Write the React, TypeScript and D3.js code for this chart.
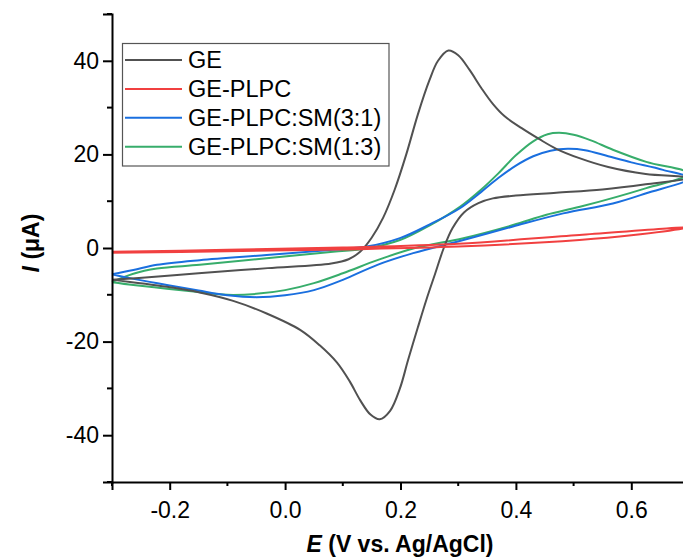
import React, { useEffect, useRef } from "react";
import * as d3 from "d3";

// cyclic voltammograms, each loop: forward scan then reverse scan (E in V, I in µA)
const geE = [-0.3, -0.22, -0.15, -0.03, 0.08, 0.11, 0.13, 0.15, 0.17, 0.19, 0.21, 0.23, 0.25, 0.265, 0.283, 0.3, 0.32, 0.34, 0.36, 0.38, 0.41, 0.44, 0.47, 0.51, 0.56, 0.625, 0.7,
  0.625, 0.55, 0.47, 0.4, 0.36, 0.335, 0.31, 0.29, 0.275, 0.26, 0.245, 0.23, 0.213, 0.199, 0.182, 0.164, 0.148, 0.13, 0.112, 0.09, 0.06, 0.026, -0.032, -0.09, -0.148, -0.205, -0.3];
const geI = [-6.8, -6.1, -5.4, -4.3, -3.3, -2.4, -0.8, 2.2, 6.5, 12.5, 20, 28.5, 35.8, 40, 42.2, 41.2, 38, 34.2, 30.8, 28.2, 25.6, 23.3, 21.2, 19.2, 17.3, 15.8, 15.0,
  13.6, 12.5, 11.8, 11.2, 10.6, 9.6, 7.6, 4.2, 0, -5.5, -11, -17, -24, -30, -34.8, -36.6, -35.6, -32.5, -28.5, -24.5, -20.8, -17.5, -14, -11.3, -9.5, -8.3, -6.8];

const plpcE = [-0.3, -0.1, 0.1, 0.3, 0.51, 0.7, 0.6, 0.51, 0.3, 0.1, -0.1, -0.3];
const plpcI = [-0.8, -0.4, 0.1, 0.9, 2.8, 4.4, 2.7, 1.7, 0.3, -0.3, -0.7, -1.0];

const sm31E = [-0.3, -0.263, -0.222, -0.148, -0.032, 0.083, 0.141, 0.199, 0.25, 0.303, 0.34, 0.37, 0.4, 0.43, 0.46, 0.49, 0.52, 0.56, 0.6, 0.655, 0.7,
  0.626, 0.568, 0.482, 0.395, 0.309, 0.222, 0.16, 0.1, 0.05, 0.0, -0.05, -0.1, -0.15, -0.205, -0.263, -0.3];
const sm31I = [-5.6, -4.7, -3.6, -2.6, -1.5, -0.4, 0.3, 2.1, 5.0, 8.5, 12.0, 15.0, 17.6, 19.6, 20.8, 21.2, 20.9, 19.6, 18.3, 16.7, 14.9,
  11.7, 9.5, 7.4, 4.6, 1.7, -1.1, -3.6, -6.8, -9.0, -10.1, -10.5, -10.1, -9.1, -7.9, -6.6, -5.6];

const sm13E = [-0.3, -0.263, -0.222, -0.148, -0.032, 0.083, 0.141, 0.199, 0.25, 0.303, 0.34, 0.37, 0.4, 0.43, 0.455, 0.475, 0.5, 0.53, 0.568, 0.626, 0.7,
  0.626, 0.511, 0.453, 0.395, 0.309, 0.222, 0.16, 0.1, 0.05, 0.0, -0.05, -0.1, -0.15, -0.205, -0.263, -0.3];
const sm13I = [-7.3, -5.5, -4.4, -3.6, -2.2, -0.8, -0.1, 1.7, 4.8, 8.8, 12.5, 16.0, 19.8, 22.8, 24.3, 24.6, 24.2, 23.0, 21.0, 18.4, 15.9,
  12.8, 8.8, 7.1, 4.9, 2.1, -0.1, -2.6, -5.4, -7.5, -9.0, -9.8, -10.0, -9.4, -8.7, -7.9, -7.3];

const seriesNames = ["GE", "GE-PLPC", "GE-PLPC:SM(3:1)", "GE-PLPC:SM(1:3)"];
const seriesColors = ["#515151", "#F14040", "#1A6FDF", "#37AD6B"];
const xTicks = [-0.2, 0.0, 0.2, 0.4, 0.6];
const yTicks = [-40, -20, 0, 20, 40];

const App = () => {
  const ref = useRef(null);

  useEffect(() => {
    const svg = d3.select(ref.current);
    svg.selectAll("*").remove();

    const font = "'Liberation Sans', Arial, sans-serif";
    const x = d3.scaleLinear().domain([-0.3, 0.7]).range([112, 689]);
    const y = d3.scaleLinear().domain([-50, 50]).range([482, 14]);

    const loops = [
      d3.zip(geE, geI),
      d3.zip(plpcE, plpcI),
      d3.zip(sm31E, sm31I),
      d3.zip(sm13E, sm13I),
    ];

    const line = d3
      .line()
      .x((d) => x(d[0]))
      .y((d) => y(d[1]))
      .curve(d3.curveCatmullRom.alpha(0.5));

    const order = [3, 2, 0, 1];
    order.forEach((i) => {
      svg
        .append("path")
        .attr("d", line(loops[i]))
        .attr("fill", "none")
        .attr("stroke", seriesColors[i])
        .attr("stroke-width", 2);
    });

    // x axis
    const xAxis = d3
      .axisBottom(x)
      .tickValues(xTicks)
      .tickSize(8)
      .tickFormat(d3.format(".1f"));
    const gx = svg.append("g").attr("transform", "translate(0,482)").call(xAxis);
    gx.select(".domain").attr("stroke", "#000").attr("stroke-width", 2);
    gx.selectAll(".tick line").attr("stroke-width", 2);
    gx.selectAll(".tick text")
      .attr("font-family", font)
      .attr("font-size", 23)
      .attr("dy", "1.1em")
      .text((d) => d3.format(".1f")(d).replace("−", "-"));
    svg
      .append("g")
      .attr("transform", "translate(0,482)")
      .selectAll("line")
      .data([-0.3, -0.1, 0.1, 0.3, 0.5])
      .enter()
      .append("line")
      .attr("x1", (d) => x(d))
      .attr("x2", (d) => x(d))
      .attr("y1", 0)
      .attr("y2", 4)
      .attr("stroke", "#000")
      .attr("stroke-width", 2);

    // y axis
    const yAxis = d3.axisLeft(y).tickValues(yTicks).tickSize(9);
    const gy = svg.append("g").attr("transform", "translate(112,0)").call(yAxis);
    gy.select(".domain").attr("stroke", "#000").attr("stroke-width", 2);
    gy.selectAll(".tick line").attr("stroke-width", 2);
    gy.selectAll(".tick text")
      .attr("font-family", font)
      .attr("font-size", 23)
      .attr("x", -13)
      .text((d) => String(d));
    svg
      .append("g")
      .attr("transform", "translate(112,0)")
      .selectAll("line")
      .data([-50, -30, -10, 10, 30, 50])
      .enter()
      .append("line")
      .attr("x1", -5)
      .attr("x2", 0)
      .attr("y1", (d) => y(d))
      .attr("y2", (d) => y(d))
      .attr("stroke", "#000")
      .attr("stroke-width", 2);

    // axis titles
    const xt = svg
      .append("text")
      .attr("x", 400)
      .attr("y", 552)
      .attr("text-anchor", "middle")
      .attr("font-family", font)
      .attr("font-size", 23)
      .attr("font-weight", "bold");
    xt.append("tspan").attr("font-style", "italic").text("E");
    xt.append("tspan").text(" (V vs. Ag/AgCl)");

    const yt = svg
      .append("text")
      .attr("transform", "translate(39,243) rotate(-90)")
      .attr("text-anchor", "middle")
      .attr("font-family", font)
      .attr("font-size", 23)
      .attr("font-weight", "bold");
    yt.append("tspan").attr("font-style", "italic").text("I");
    yt.append("tspan").text(" (μA)");

    // legend
    const lg = svg.append("g");
    lg.append("rect")
      .attr("x", 122.5)
      .attr("y", 43.5)
      .attr("width", 266.5)
      .attr("height", 122.5)
      .attr("fill", "#fff")
      .attr("stroke", "#555")
      .attr("stroke-width", 1.2);
    seriesNames.forEach((name, i) => {
      const by = 68 + i * 28.9;
      lg.append("line")
        .attr("x1", 125)
        .attr("x2", 182)
        .attr("y1", by - 8)
        .attr("y2", by - 8)
        .attr("stroke", seriesColors[i])
        .attr("stroke-width", 2);
      lg.append("text")
        .attr("x", 188)
        .attr("y", by)
        .attr("font-family", font)
        .attr("font-size", 23.5)
        .attr("fill", "#000")
        .text(name);
    });
  }, []);

  return <svg ref={ref} width={683} height={560} style={{ display: "block", position: "absolute", left: 0, top: 0 }}></svg>;
};

export default App;
